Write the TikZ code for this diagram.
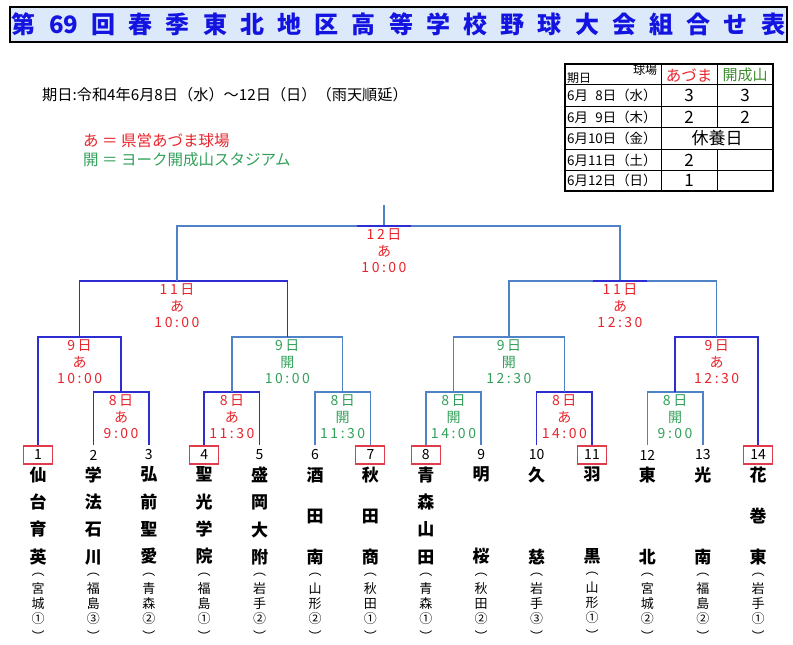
\documentclass[tikz,border=0pt]{standalone}
\usepackage{fontspec}
\setmainfont{Noto Sans CJK JP}
\newfontfamily\lblfont[LetterSpace=18]{Noto Sans CJK JP}
\usepackage{tikz}
\usetikzlibrary{positioning}
\definecolor{ttlblue}{RGB}{20,20,225}
\definecolor{ttlbg}{RGB}{220,233,250}
\definecolor{dkblue}{RGB}{45,45,210}
\definecolor{ltblue}{RGB}{80,130,200}
\definecolor{lblred}{RGB}{232,36,44}
\definecolor{lblgreen}{RGB}{50,160,90}
\definecolor{tblgreen}{RGB}{60,140,45}
\definecolor{boxred}{RGB}{225,60,75}

\begin{document}
\begin{tikzpicture}[x=1pt,y=-1pt,
    dk/.style={draw=dkblue,line width=1.5pt},
    lt/.style={draw=ltblue,line width=1.5pt},
    numbox/.style={draw=boxred,line width=1.1pt,minimum width=29pt,minimum height=18pt,inner sep=0pt,font=\fontsize{14}{14}\selectfont},
    numplain/.style={numbox,draw=none},
    tname/.style={inner sep=0pt,align=center,font=\bfseries\fontsize{17}{#1}\selectfont},
    pref/.style={inner sep=0pt,align=center,font=\fontsize{13}{15}\selectfont},
    lbl/.style={text=#1,inner sep=0pt,align=center,font=\lblfont\fontsize{14}{16.7}\selectfont},
    tbl/.style={inner sep=0pt,font=\fontsize{13.4}{14}\selectfont},
    val/.style={inner sep=0pt,font=\fontsize{17}{17}\selectfont}]
    \useasboundingbox (0,0) rectangle (793,645);
    % title bar
    \draw[fill=ttlbg,line width=2.5pt] (10,7) rectangle (787,42);
    \node[text=ttlblue,font=\bfseries\fontsize{24}{24}\selectfont] (title) at (398.5,24.5)
        {\spaceskip=13.2pt\relax 第 69 回 春 季 東 北 地 区 高 等 学 校 野 球 大 会 組 合 せ 表};
    % date and grounds
    \node[anchor=west,inner sep=0pt,font=\fontsize{15.2}{16}\selectfont] (date) at (42,95) {期日:令和4年6月8日（水）～12日（日）（雨天順延）};
    \node[anchor=west,inner sep=0pt,text=lblred,font=\fontsize{15.5}{16}\selectfont] (keyA) at (83,141) {あ ＝ 県営あづま球場};
    \node[anchor=west,inner sep=0pt,text=lblgreen,font=\fontsize{15.5}{16}\selectfont] (keyK) at (83,160) {開 ＝ ヨーク開成山スタジアム};
    % schedule table
    \draw[line width=1.8pt] (565,64) rectangle (773,191);
    \draw[line width=0.9pt] (565,84) -- (773,84) (565,106) -- (773,106) (565,127) -- (773,127)
        (565,149) -- (773,149) (565,170) -- (773,170)
        (661,64) -- (661,191) (717,64) -- (717,127) (717,149) -- (717,191);
    \node[tbl,anchor=west,font=\fontsize{12}{12}\selectfont] (hd1) at (567,78) {期日};
    \node[tbl,font=\fontsize{12}{12}\selectfont] (hd2) at (645,70) {球場};
    \node[text=lblred,font=\fontsize{15.5}{16}\selectfont] (hd3) at (689,75) {あづま};
    \node[text=tblgreen,font=\fontsize{15}{16}\selectfont] (hd4) at (745,75) {開成山};
    \node[tbl,anchor=west] (r1) at (567,95) {6月\hphantom{1}8日（水）};
    \node[tbl,anchor=west] (r2) at (567,117) {6月\hphantom{1}9日（木）};
    \node[tbl,anchor=west] (r3) at (567,138) {6月10日（金）};
    \node[tbl,anchor=west] (r4) at (567,160) {6月11日（土）};
    \node[tbl,anchor=west] (r5) at (567,180) {6月12日（日）};
    \node[val] (v1a) at (689,95) {3};
    \node[val] (v1b) at (745,95) {3};
    \node[val] (v2a) at (689,117) {2};
    \node[val] (v2b) at (745,117) {2};
    \node[val] (v3) at (717,138) {休養日};
    \node[val] (v4a) at (689,160) {2};
    \node[val] (v5a) at (689,180) {1};
    % teams, from the left
    \node[numbox] (t1) at (38,455) {1};
    \node[tname=27.3,below=2pt of t1] (n1) {仙\\台\\育\\英};
    \node[pref,below=8pt of n1] (p1) {︵\\[3pt]宮\\城\\①\\[3pt]︶};
    \node[numplain] (t2) at (93.4,455) {2};
    \node[tname=27.3,below=2pt of t2] (n2) {学\\法\\石\\川};
    \node[pref,below=8pt of n2] (p2) {︵\\[3pt]福\\島\\③\\[3pt]︶};
    \node[numplain] (t3) at (148.8,455) {3};
    \node[tname=27.3,below=2pt of t3] (n3) {弘\\前\\聖\\愛};
    \node[pref,below=8pt of n3] (p3) {︵\\[3pt]青\\森\\②\\[3pt]︶};
    \node[numbox] (t4) at (204.2,455) {4};
    \node[tname=27.3,below=2pt of t4] (n4) {聖\\光\\学\\院};
    \node[pref,below=8pt of n4] (p4) {︵\\[3pt]福\\島\\①\\[3pt]︶};
    \node[numplain] (t5) at (259.6,455) {5};
    \node[tname=27.3,below=2pt of t5] (n5) {盛\\岡\\大\\附};
    \node[pref,below=8pt of n5] (p5) {︵\\[3pt]岩\\手\\②\\[3pt]︶};
    \node[numplain] (t6) at (315,455) {6};
    \node[tname=41,below=2pt of t6] (n6) {酒\\田\\南};
    \node[pref,below=8pt of n6] (p6) {︵\\[3pt]山\\形\\②\\[3pt]︶};
    \node[numbox] (t7) at (370.4,455) {7};
    \node[tname=41,below=2pt of t7] (n7) {秋\\田\\商};
    \node[pref,below=8pt of n7] (p7) {︵\\[3pt]秋\\田\\①\\[3pt]︶};
    \node[numbox] (t8) at (425.8,455) {8};
    \node[tname=27.3,below=2pt of t8] (n8) {青\\森\\山\\田};
    \node[pref,below=8pt of n8] (p8) {︵\\[3pt]青\\森\\①\\[3pt]︶};
    \node[numplain] (t9) at (481.2,455) {9};
    \node[tname=82,below=2pt of t9] (n9) {明\\桜};
    \node[pref,below=8pt of n9] (p9) {︵\\[3pt]秋\\田\\②\\[3pt]︶};
    \node[numplain] (t10) at (536.6,455) {10};
    \node[tname=82,below=2pt of t10] (n10) {久\\慈};
    \node[pref,below=8pt of n10] (p10) {︵\\[3pt]岩\\手\\③\\[3pt]︶};
    \node[numbox] (t11) at (592,455) {11};
    \node[tname=82,below=2pt of t11] (n11) {羽\\黒};
    \node[pref,below=8pt of n11] (p11) {︵\\[3pt]山\\形\\①\\[3pt]︶};
    \node[numplain] (t12) at (647.4,455) {12};
    \node[tname=82,below=2pt of t12] (n12) {東\\北};
    \node[pref,below=8pt of n12] (p12) {︵\\[3pt]宮\\城\\②\\[3pt]︶};
    \node[numplain] (t13) at (702.8,455) {13};
    \node[tname=82,below=2pt of t13] (n13) {光\\南};
    \node[pref,below=8pt of n13] (p13) {︵\\[3pt]福\\島\\②\\[3pt]︶};
    \node[numbox] (t14) at (758.2,455) {14};
    \node[tname=41,below=2pt of t14] (n14) {花\\巻\\東};
    \node[pref,below=8pt of n14] (p14) {︵\\[3pt]岩\\手\\①\\[3pt]︶};
    % match points
    \coordinate (m23) at (121.1,392);
    \coordinate (m45) at (231.9,392);
    \coordinate (m67) at (342.7,392);
    \coordinate (m89) at (453.5,392);
    \coordinate (m1011) at (564.3,392);
    \coordinate (m1213) at (675.1,392);
    \coordinate (s1) at (79.6,337);
    \coordinate (s2) at (287.3,337);
    \coordinate (s3) at (508.9,337);
    \coordinate (s4) at (716.7,337);
    \coordinate (q1) at (177,281);
    \coordinate (q2) at (620,281);
    \coordinate (f) at (384,226);
    \coordinate (top) at (384,205);
    % bracket lines
    \draw[dk] (t2.north) |- (m23) -| (t3.north);
    \draw[dk] (t4.north) |- (m45) -| (t5.north);
    \draw[lt] (t6.north) |- (m67) -| (t7.north);
    \draw[lt] (t8.north) |- (m89) -| (t9.north);
    \draw[dk] (t10.north) |- (m1011) -| (t11.north);
    \draw[lt] (t12.north) |- (m1213) -| (t13.north);
    \draw[dk] (t1.north) |- (s1) -| (m23);
    \draw[lt] (m45) |- (s2) -| (m67);
    \draw[lt] (m89) |- (s3) -| (m1011);
    \draw[dk] (m1213) |- (s4) -| (t14.north);
    \draw[dk] (s1) |- (q1) -| (s2);
    \draw[lt] (s3) |- (q2) -| (s4);
    \draw[lt] (q1) |- (f) -| (q2);
    \draw[lt] (top) -- (f);
    \draw[dk] ([xshift=-27pt]f) -- ([xshift=27pt]f);
    \draw[dk] ([xshift=-27pt]q2) -- ([xshift=27pt]q2);
    % day, ground and time of each game
    \node[lbl=lblred,below=2.5pt of m23] (g23) {8日\\あ\\9:00};
    \node[lbl=lblred,below=2.5pt of m45] (g45) {8日\\あ\\11:30};
    \node[lbl=lblgreen,below=2.5pt of m67] (g67) {8日\\開\\11:30};
    \node[lbl=lblgreen,below=2.5pt of m89] (g89) {8日\\開\\14:00};
    \node[lbl=lblred,below=2.5pt of m1011] (g1011) {8日\\あ\\14:00};
    \node[lbl=lblgreen,below=2.5pt of m1213] (g1213) {8日\\開\\9:00};
    \node[lbl=lblred,below=2.5pt of s1] (gs1) {9日\\あ\\10:00};
    \node[lbl=lblgreen,below=2.5pt of s2] (gs2) {9日\\開\\10:00};
    \node[lbl=lblgreen,below=2.5pt of s3] (gs3) {9日\\開\\12:30};
    \node[lbl=lblred,below=2.5pt of s4] (gs4) {9日\\あ\\12:30};
    \node[lbl=lblred,below=2.5pt of q1] (gq1) {11日\\あ\\10:00};
    \node[lbl=lblred,below=2.5pt of q2] (gq2) {11日\\あ\\12:30};
    \node[lbl=lblred,below=2.5pt of f] (gf) {12日\\あ\\10:00};
\end{tikzpicture}
\end{document}
